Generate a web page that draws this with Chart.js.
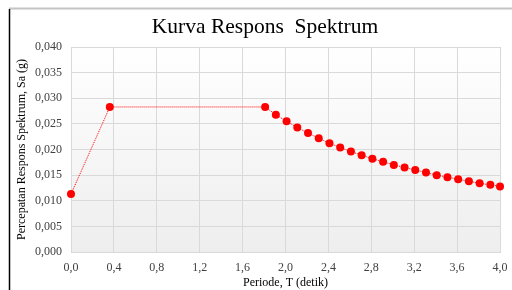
<!DOCTYPE html>
<html>
<head>
<meta charset="utf-8">
<script src="https://cdn.jsdelivr.net/npm/chart.js@4.4.0/dist/chart.umd.min.js"></script>
<style>
html,body{margin:0;padding:0;background:#fff;}
#wrap{width:512px;height:290px;position:relative;}
</style>
</head>
<body>
<div id="wrap"><canvas id="c" width="512" height="290"></canvas></div>
<script>
const periods = [0.000, 0.362, 1.81, 1.91, 2.01, 2.11, 2.21, 2.31, 2.41, 2.51, 2.61, 2.71, 2.81, 2.91, 3.01, 3.11, 3.21, 3.31, 3.41, 3.51, 3.61, 3.71, 3.81, 3.91, 4.00];
const saValues = [0.0113, 0.0283, 0.0283, 0.0268, 0.0255, 0.0243, 0.0232, 0.0222, 0.0212, 0.0204, 0.0196, 0.0189, 0.0182, 0.0176, 0.0170, 0.0165, 0.0160, 0.0155, 0.0150, 0.0146, 0.0142, 0.0138, 0.0134, 0.0131, 0.0128];
const xTicks = [0.0, 0.4, 0.8, 1.2, 1.6, 2.0, 2.4, 2.8, 3.2, 3.6, 4.0];
const yTicks = [0.000, 0.005, 0.010, 0.015, 0.020, 0.025, 0.030, 0.035, 0.040];
const titleText = 'Kurva Respons  Spektrum';
const xTitle = 'Periode, T (detik)';
const yTitle = 'Percepatan Respons Spektrum, Sa (g)';

const FONT = "'Liberation Serif', 'Times New Roman', serif";

const pts = periods.map((t, i) => ({x: t, y: saValues[i]}));

const bgPlugin = {
  id: 'bgPlugin',
  beforeDraw(chart) {
    const {ctx, chartArea: a} = chart;
    ctx.save();
    const g = ctx.createLinearGradient(0, a.top, 0, a.bottom);
    g.addColorStop(0, '#ffffff');
    g.addColorStop(1, '#eeeeee');
    ctx.fillStyle = g;
    ctx.fillRect(a.left, a.top, a.right - a.left, a.bottom - a.top);
    ctx.restore();
  },
  afterDraw(chart) {
    const ctx = chart.ctx;
    ctx.save();
    ctx.strokeStyle = '#c4c4c4';
    ctx.lineWidth = 2;
    ctx.beginPath();
    ctx.moveTo(9, 8.5);
    ctx.lineTo(512, 8.5);
    ctx.stroke();
    ctx.strokeStyle = '#000000';
    ctx.lineWidth = 1.5;
    ctx.beginPath();
    ctx.moveTo(9.5, 9);
    ctx.lineTo(9.5, 290);
    ctx.stroke();
    // chart title
    ctx.fillStyle = '#000';
    ctx.font = "21.5px " + FONT;
    ctx.textAlign = 'center';
    ctx.textBaseline = 'middle';
    ctx.fillText(titleText, 265, 27);
    ctx.restore();
  }
};

new Chart(document.getElementById('c'), {
  type: 'scatter',
  data: {
    datasets: [{
      data: pts,
      showLine: true,
      borderColor: '#ff0000',
      borderWidth: 1,
      borderDash: [1, 1],
      backgroundColor: '#ff0000',
      pointBackgroundColor: '#ff0000',
      pointBorderColor: '#ff0000',
      pointRadius: 4,
      pointBorderWidth: 0,
      tension: 0,
      clip: false
    }]
  },
  options: {
    responsive: false,
    animation: false,
    devicePixelRatio: 1,
    layout: {padding: {left: 12, right: 12, top: 47, bottom: 0}},
    plugins: {
      legend: {display: false},
      tooltip: {enabled: false},
      title: {display: false}
    },
    scales: {
      x: {
        type: 'linear',
        min: 0, max: 4,
        afterBuildTicks(axis) { axis.ticks = xTicks.map(v => ({value: v})); },
        afterFit(axis) { axis.height = 38; axis.paddingLeft = 0; axis.paddingRight = 0; },
        ticks: {
          color: '#404040',
          font: {family: FONT, size: 12},
          padding: 9,
          maxRotation: 0,
          callback: v => v.toFixed(1).replace('.', ',')
        },
        grid: {color: '#d9d9d9', drawTicks: false, lineWidth: 1},
        border: {display: true, color: '#d9d9d9'},
        title: {
          display: true, text: xTitle, color: '#000',
          font: {family: FONT, size: 12}, padding: {top: 0, bottom: 0}
        }
      },
      y: {
        type: 'linear',
        min: 0, max: 0.04,
        afterBuildTicks(axis) { axis.ticks = yTicks.map(v => ({value: v})); },
        afterFit(axis) { axis.width = 59; axis.paddingTop = 0; axis.paddingBottom = 0; },
        ticks: {
          color: '#404040',
          font: {family: FONT, size: 12},
          padding: 9,
          callback: v => v.toFixed(3).replace('.', ',')
        },
        grid: {color: '#d9d9d9', drawTicks: false, lineWidth: 1},
        border: {display: true, color: '#d9d9d9'},
        title: {
          display: true, text: yTitle, color: '#000',
          font: {family: FONT, size: 12}, padding: {top: 3, bottom: 0}
        }
      }
    }
  },
  plugins: [bgPlugin]
});
</script>
</body>
</html>
